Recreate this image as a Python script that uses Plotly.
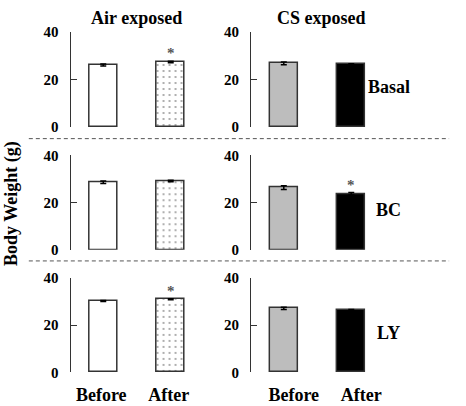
import plotly.graph_objects as go

# ---- data ----
categories = ["Before", "After"]
row_labels = ["Basal", "BC", "LY"]
col_titles = ["Air exposed", "CS exposed"]

air_means = [[26.1, 27.4], [28.6, 29.1], [30.2, 31.0]]
air_errs = [[0.4, 0.3], [0.5, 0.3], [0.2, 0.2]]
cs_means = [[26.8, 26.4], [26.3, 23.7], [27.1, 26.3]]
cs_errs = [[0.6, 0.3], [0.8, 0.5], [0.5, 0.3]]
# significance markers: (row, col, category index)
stars = [(0, 0, 1), (1, 1, 1), (2, 0, 1)]

y_ticks = [0, 20, 40]

W, H = 466, 406
FONT = "Liberation Serif"

fig = go.Figure()

xdom = [(71 / W, 199 / W), (252.7 / W, 380.7 / W)]
ypix = [(25, 124), (153.3, 251.7), (281, 379.3)]
ydom = [(1 - b / H, 1 - t / H) for t, b in ypix]

axis_id = 0
axmap = {}
for r in range(3):
    for c in range(2):
        axis_id += 1
        axmap[(r, c)] = axis_id
        sfx = "" if axis_id == 1 else str(axis_id)
        xa = "x" + sfx
        ya = "y" + sfx
        means = air_means[r] if c == 0 else cs_means[r]
        errs = air_errs[r] if c == 0 else cs_errs[r]
        for k in range(2):
            if c == 0:
                fill = "white"
                pattern = dict(shape="." if k == 1 else "", fgcolor="#111", bgcolor="white",
                               size=6, solidity=0.07)
            else:
                fill = "#bdbdbd" if k == 0 else "black"
                pattern = None
            marker = dict(color=fill, line=dict(color="#333", width=1.5))
            if pattern:
                marker["pattern"] = pattern
            fig.add_trace(go.Bar(
                x=[categories[k]], y=[means[k]], xaxis=xa, yaxis=ya,
                marker=marker, width=0.41, showlegend=False,
                error_y=dict(type="data", array=[errs[k]], color="black",
                             thickness=1.5, width=3),
            ))
        lay_x = "xaxis" + sfx
        lay_y = "yaxis" + sfx
        fig.layout[lay_x] = dict(
            domain=list(xdom[c]), anchor=ya, type="category",
            categoryorder="array", categoryarray=categories,
            range=[-0.485, 1.4], showline=False, showgrid=False, zeroline=False,
            ticks="", showticklabels=(r == 2),
            tickfont=dict(family=FONT, size=18, color="black", weight="bold"),
            ticklabelstandoff=10, ticklabelshift=(-2 if c == 0 else 10),
        )
        fig.layout[lay_y] = dict(
            domain=list(ydom[r]), anchor=xa, range=[0, 40],
            tickvals=y_ticks, ticks="inside", ticklen=6, tickcolor="#333",
            showline=True, linecolor="#333", linewidth=1,
            showgrid=False, zeroline=False,
            tickfont=dict(family=FONT, size=15, color="black", weight="bold"),
            ticklabelstandoff=8,
        )

annotations = []
for (r, c, k) in stars:
    aid = axmap[(r, c)]
    sfx = "" if aid == 1 else str(aid)
    means = air_means[r] if c == 0 else cs_means[r]
    errs = air_errs[r] if c == 0 else cs_errs[r]
    annotations.append(dict(
        x=categories[k], y=means[k] + errs[k], xref="x" + sfx, yref="y" + sfx,
        text="*", showarrow=False, yanchor="bottom", yshift=-2,
        font=dict(family=FONT, size=15, color="#555", weight="bold"),
    ))

title_x = [137 / W, 323.5 / W]
for c in range(2):
    annotations.append(dict(
        x=title_x[c], y=1 - 10 / H, xref="paper", yref="paper", text=col_titles[c],
        showarrow=False, xanchor="center", yanchor="middle",
        font=dict(family=FONT, size=18, color="black", weight="bold"),
    ))

row_y = [82, 210, 338]
for r in range(3):
    annotations.append(dict(
        x=391.5 / W, y=1 - row_y[r] / H, xref="paper", yref="paper", text=row_labels[r],
        showarrow=False, xanchor="center", yanchor="middle",
        font=dict(family=FONT, size=18, color="black", weight="bold"),
    ))

annotations.append(dict(
    x=11 / W, y=1 - 203 / H, xref="paper", yref="paper", text="Body Weight (g)",
    textangle=-90, showarrow=False, xanchor="center", yanchor="middle",
    font=dict(family=FONT, size=18, color="black", weight="bold"),
))

shapes = []
for yy in [136, 263.3]:
    shapes.append(dict(
        type="line", xref="paper", yref="paper", x0=29 / W, x1=452 / W,
        y0=1 - yy / H, y1=1 - yy / H, line=dict(color="#555", width=1, dash="4px,3px"),
    ))

fig.update_layout(
    width=W, height=H, margin=dict(l=0, r=0, t=0, b=0),
    paper_bgcolor="white", plot_bgcolor="white",
    annotations=annotations, shapes=shapes, bargap=0,
)

fig.write_html("out.html", config={"displayModeBar": False},
               post_script="document.body.style.margin='0';")
